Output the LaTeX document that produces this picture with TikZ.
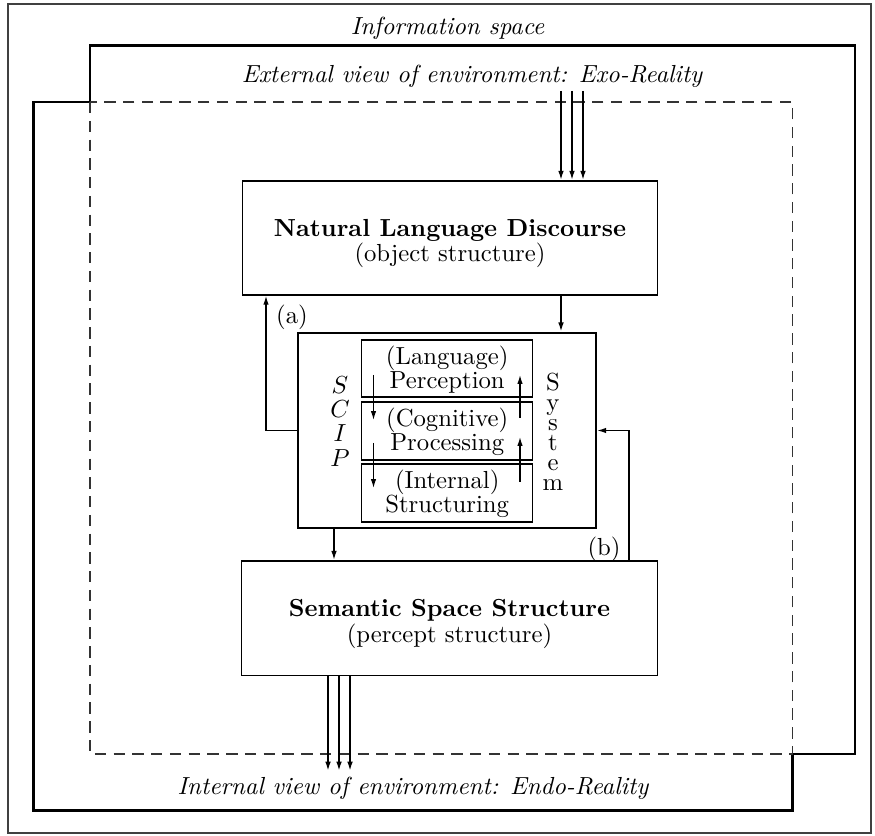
\documentclass[tikz,border=0pt]{standalone}
\usetikzlibrary{arrows.meta}
\begin{document}
\begin{tikzpicture}[x=0.405pt,y=-0.405pt,
  arr/.style={-{Latex[length=3.6pt,width=2.2pt]}, line width=0.5pt},
  bigarr/.style={-{Latex[length=3.8pt,width=2.3pt]}, line width=0.7pt},
  box/.style={draw, line width=0.55pt, rectangle, inner sep=0pt},
  txt/.style={inner sep=0pt, align=center},
  thickline/.style={line width=1.2pt}]
\useasboundingbox (0,0) rectangle (875,836);
% outer frame
\draw[line width=0.8pt, black!75] (8,4) rectangle (871,833);
% thick polygon
\draw[thickline] (90,45.5) -- (855,45.5) -- (855,754) -- (792.5,754) -- (792.5,810.5) -- (33.5,810.5) -- (33.5,102) -- (90,102) -- cycle;
% dashed rectangle
\draw[line width=0.55pt, black!80, dash pattern=on 4.6pt off 3pt] (90,102) rectangle (792.5,754);
% titles
\node (info) at (447.5,28) {\itshape Information space};
\node (exo) at (472,76) {\itshape External view of environment: Exo-Reality};
\node (endo) at (413,788) {\itshape Internal view of environment: Endo-Reality};
% main boxes
\node[box, minimum width=168.2pt, minimum height=46.3pt] (nld) at (450,238) {};
\node[txt, yshift=-2.25pt] (nldt) at (nld.center) {\textbf{Natural Language Discourse}\\[-1.5pt](object structure)};
\node[box, minimum width=168.4pt, minimum height=46.5pt] (sss) at (449.5,618.3) {};
\node[txt, yshift=-2.2pt] (ssst) at (sss.center) {\textbf{Semantic Space Structure}\\[-1.5pt](percept structure)};
\node[draw, line width=0.95pt, rectangle, minimum width=120.7pt, minimum height=79pt] (scip) at (447,430.5) {};
\node[box, minimum width=69.3pt, minimum height=23.1pt] (b1) at (447.2,368.5) {};
\node[box, minimum width=69.3pt, minimum height=23.5pt] (b2) at (447.2,431) {};
\node[box, minimum width=69.3pt, minimum height=23.5pt] (b3) at (447.2,493) {};
\node[txt, yshift=-0.4pt] (b1t) at (b1.center) {(Language)\\[-2pt]Perception};
\node[txt, yshift=-0.3pt] (b2t) at (b2.center) {(Cognitive)\\[-2pt]Processing};
\node[txt, yshift=-0.3pt] (b3t) at (b3.center) {(Internal)\\[-2pt]Structuring};
% side letters
\node[txt] (scipt) at (340,421.3) {$S$\\[-2.1pt]$C$\\[-2.1pt]$I$\\[-2.1pt]$P$};
\node[txt] (syst) at (553,431.5) {S\\[-3.9pt]y\\[-3.9pt]s\\[-3.9pt]t\\[-3.9pt]e\\[-3.9pt]m};
% inner arrows
\coordinate (d1a) at (373.5,375);  \coordinate (d1b) at (373.5,420);
\coordinate (d2a) at (373.5,443);  \coordinate (d2b) at (373.5,488);
\coordinate (u1a) at (520,418);    \coordinate (u1b) at (520,375);
\coordinate (u2a) at (520,482);    \coordinate (u2b) at (520,437);
\draw[arr] (d1a) -- (d1b);
\draw[arr] (d2a) -- (d2b);
\draw[arr] (u1a) -- (u1b);
\draw[arr] (u2a) -- (u2b);
% top arrows
\foreach \x/\n in {561/t1,572/t2,583/t3}{
  \coordinate (\n) at (\x,91);
  \draw[bigarr] (\n) -- (\n |- nld.north);
}
% bottom arrows
\foreach \x/\n in {328/e1,339/e2,350/e3}{
  \coordinate (\n) at (\x,771);
  \draw[bigarr] (\n |- sss.south) -- (\n);
}
% nld -> scip
\coordinate (c1) at (561,0);
\draw[bigarr] (nld.south -| c1) -- (scip.north -| c1);
% scip -> sss
\coordinate (c2) at (334,0);
\draw[bigarr] (scip.south -| c2) -- (sss.north -| c2);
% (a)
\coordinate (xa) at (266,0);
\draw[arr] (scip.west) -| (nld.south -| xa);
\node (la) at (292,317) {(a)};
% (b)
\coordinate (xb) at (629,0);
\draw[arr] (sss.north -| xb) |- (scip.east);
\node (lb) at (604,549) {(b)};
\end{tikzpicture}
\end{document}
